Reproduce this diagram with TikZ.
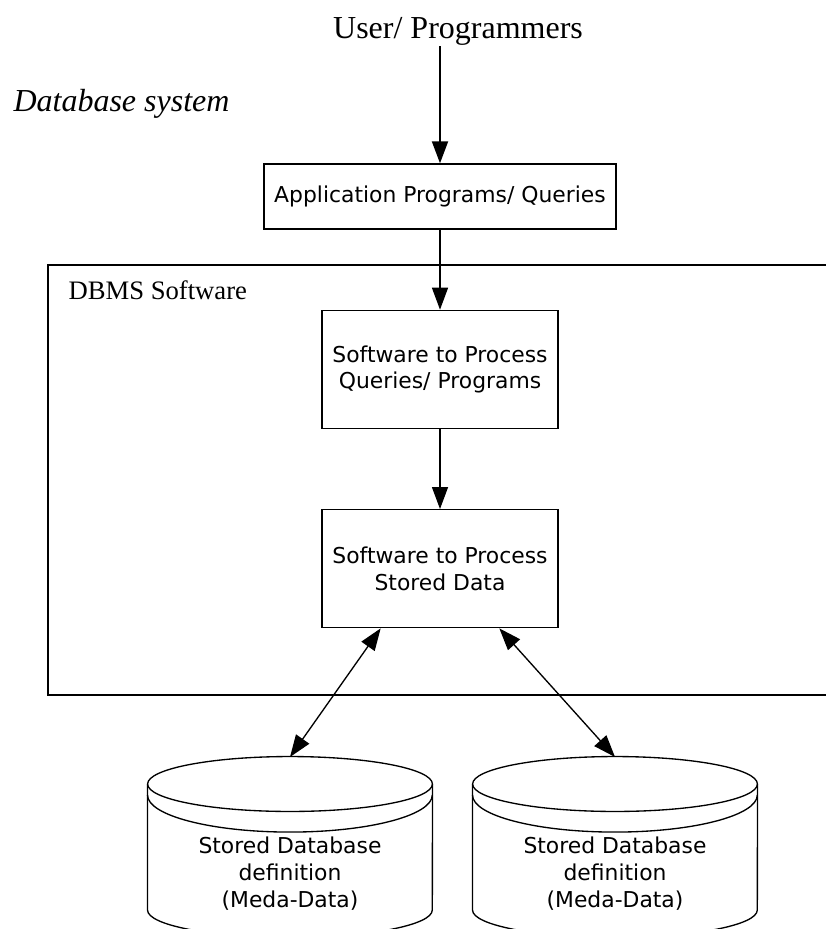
\documentclass[tikz,border=0pt]{standalone}
\usepackage{fontspec}
\setmainfont{Liberation Serif}
\newfontfamily\verdana{DejaVu Sans}
\usetikzlibrary{arrows.meta, positioning, calc}

\begin{document}
\begin{tikzpicture}[
		x=0.375pt, y=-0.375pt,
		node distance = 30pt,
		>={Triangle[length=8.25pt, width=6pt]},
		block/.style = {draw, rectangle, line width=0.5pt, minimum width=88.5pt, minimum height=44.25pt, align=center, inner sep=0pt, font=\verdana\fontsize{8.2}{9.9}\selectfont},
		title/.style = {inner sep=0pt, font=\fontsize{12}{14}\selectfont},
		drum/.style = {line width=0.5pt},
		dbtext/.style = {align=center, inner sep=0pt, font=\verdana\fontsize{8.2}{10.1}\selectfont}
		]
		
		\useasboundingbox (0,0) rectangle (825,929);
		
		\node [title, anchor=base] (user) at (458,39) {User/ Programmers};
		\node [title, anchor=base west, font=\fontsize{12}{14}\selectfont\itshape] (dbsys) at (13,112) {Database system};
		
		\node [block, minimum width=132pt, minimum height=24.4pt] (app) at (440,196.5) {Application Programs/ Queries};
		\node [block, below=of app] (queries) {Software to Process\\Queries/ Programs};
		\node [block, below=of queries] (stored) {Software to Process\\Stored Data};
		
		\draw [line width=0.75pt] (826,265) -- (48,265) -- (48,695) -- (826,695);
		\node [anchor=base west, inner sep=0pt, font=\fontsize{10}{12}\selectfont] (dbms) at (68,300) {DBMS Software};
		
		\foreach \cx/\nm in {290/meta1, 615/meta2} {
			\draw [drum] (\cx,784) ellipse [x radius=53.4pt, y radius=10.3pt];
			\draw [drum] (\cx-142.5,795) arc [start angle=180, end angle=360, x radius=53.4pt, y radius=13.9pt];
			\draw [drum] (\cx-142.5,784) -- (\cx-142.5,910) arc [start angle=180, end angle=360, x radius=53.4pt, y radius=10.3pt] -- (\cx+142.5,784);
			\node [dbtext] (\nm) at (\cx,874) {Stored Database\\definition\\(Meda-Data)};
			\coordinate (\nm-top) at (\cx,757);
		}
		
		\draw [->, line width=0.75pt] (user.south -| app.north) -- (app.north);
		\draw [->, line width=0.5pt] (app) -- (queries);
		\draw [->, line width=0.5pt] (queries) -- (stored);
		\draw [<->, line width=0.5pt] ($(stored.south west)!0.25!(stored.south east)$) -- (meta1-top);
		\draw [<->, line width=0.5pt] ($(stored.south west)!0.75!(stored.south east)$) -- (meta2-top);
		
	\end{tikzpicture}
\end{document}
